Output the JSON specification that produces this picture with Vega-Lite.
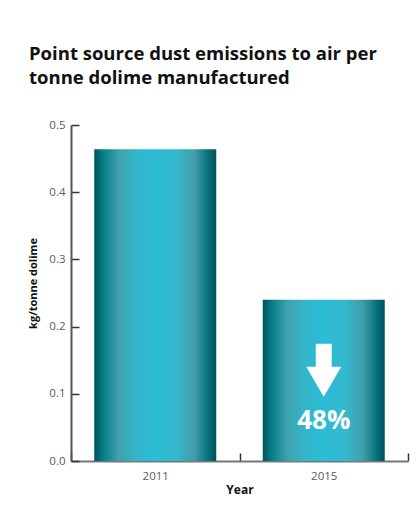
{
  "$schema": "https://vega.github.io/schema/vega-lite/v6.json",
  "autosize": {"type": "none"},
  "padding": {"left": 71, "top": 125, "right": 11, "bottom": 46},
  "width": 337,
  "height": 336,
  "background": "#ffffff",
  "title": {
    "text": ["Point source dust emissions to air per", "tonne dolime manufactured"],
    "anchor": "start",
    "frame": "group",
    "dx": -42,
    "offset": 32,
    "font": "Open Sans",
    "fontSize": 18.5,
    "fontWeight": "bold",
    "color": "#111111",
    "lineHeight": 24
  },
  "datasets": {
    "bars": [
      {"Year": "2011", "value": 0.464},
      {"Year": "2015", "value": 0.24}
    ],
    "note": [
      {"Year": "2015", "label": "48%", "arrowAt": 0.135, "labelAt": 0.06}
    ]
  },
  "layer": [
    {
      "data": {"name": "bars"},
      "mark": {
        "type": "bar",
        "width": {"band": 0.724},
        "color": {
          "gradient": "linear",
          "x1": 0, "x2": 1, "y1": 0, "y2": 0,
          "stops": [
            {"offset": 0, "color": "#00545d"},
            {"offset": 0.08, "color": "#07808a"},
            {"offset": 0.2, "color": "#3fa2ae"},
            {"offset": 0.35, "color": "#32b6cb"},
            {"offset": 0.5, "color": "#2bbcd6"},
            {"offset": 0.68, "color": "#34b8cc"},
            {"offset": 0.82, "color": "#439dab"},
            {"offset": 0.92, "color": "#0a7781"},
            {"offset": 1, "color": "#00505a"}
          ]
        }
      },
      "encoding": {
        "x": {
          "field": "Year",
          "type": "nominal",
          "scale": {"paddingInner": 0, "paddingOuter": 0},
          "axis": {
            "title": "Year",
            "labelAngle": 0,
            "tickBand": "extent",
            "tickSize": -8,
            "tickColor": "#333333",
            "tickWidth": 1.5,
            "domainColor": "#777777",
            "domainWidth": 2,
            "labelFont": "Open Sans",
            "labelFontSize": 11.5,
            "labelColor": "#5a5a5a",
            "labelPadding": 17,
            "titleFont": "Open Sans",
            "titleFontSize": 12,
            "titleFontWeight": "bold",
            "titleColor": "#111111",
            "titlePadding": 3
          }
        },
        "y": {
          "field": "value",
          "type": "quantitative",
          "scale": {"domain": [0, 0.5]},
          "axis": {
            "title": "kg/tonne dolime",
            "values": [0, 0.1, 0.2, 0.3, 0.4, 0.5],
            "format": ".1f",
            "grid": false,
            "tickSize": -8,
            "tickColor": "#333333",
            "tickWidth": 1.5,
            "domainColor": "#555555",
            "domainWidth": 2,
            "labelFont": "Open Sans",
            "labelFontSize": 11.5,
            "labelColor": "#5a5a5a",
            "labelPadding": 14,
            "titleFont": "Open Sans",
            "titleFontSize": 11,
            "titleFontWeight": "bold",
            "titleColor": "#111111",
            "titlePadding": 10,
            "titleY": 158
          }
        }
      }
    },
    {
      "data": {"name": "note"},
      "mark": {
        "type": "point",
        "shape": "M-0.3,-1L0.3,-1L0.3,-0.13L0.66,-0.13L0,1L-0.66,-0.13L-0.3,-0.13Z",
        "filled": true,
        "fill": "#ffffff",
        "stroke": null,
        "opacity": 1,
        "size": 2809
      },
      "encoding": {
        "x": {"field": "Year", "type": "nominal"},
        "y": {"field": "arrowAt", "type": "quantitative"}
      }
    },
    {
      "data": {"name": "note"},
      "mark": {
        "type": "text",
        "font": "Open Sans",
        "fontSize": 26,
        "fontWeight": "bold",
        "color": "#ffffff",
        "baseline": "middle",
        "align": "center"
      },
      "encoding": {
        "x": {"field": "Year", "type": "nominal"},
        "y": {"field": "labelAt", "type": "quantitative"},
        "text": {"field": "label"}
      }
    }
  ],
  "config": {"view": {"stroke": null}}
}
